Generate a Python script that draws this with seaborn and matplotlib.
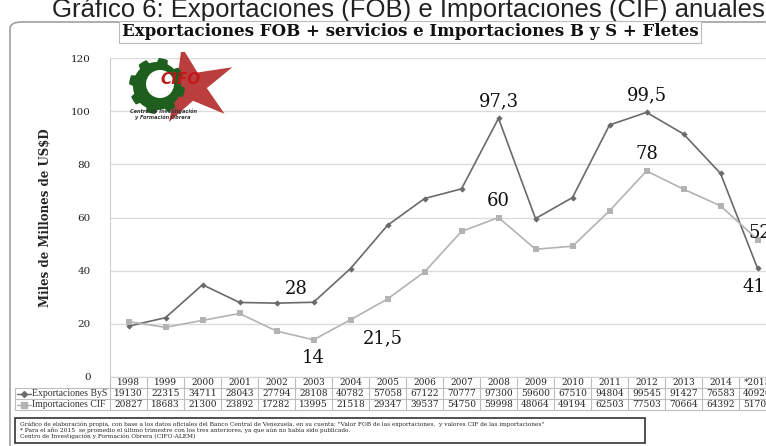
import numpy as np
import pandas as pd
import matplotlib
matplotlib.use("Agg")
import matplotlib.pyplot as plt
import matplotlib.patches as mpatches
from matplotlib.transforms import blended_transform_factory
import seaborn as sns

years = ["1998", "1999", "2000", "2001", "2002", "2003", "2004", "2005", "2006",
         "2007", "2008", "2009", "2010", "2011", "2012", "2013", "2014", "*2015"]
exportaciones = [19130, 22315, 34711, 28043, 27794, 28108, 40782, 57058, 67122,
                 70777, 97300, 59600, 67510, 94804, 99545, 91427, 76583, 40920]
importaciones = [20827, 18683, 21300, 23892, 17282, 13995, 21518, 29347, 39537,
                 54750, 59998, 48064, 49194, 62503, 77503, 70664, 64392, 51700]
series_names = ["Exportaciones ByS", "Importaciones CIF"]
yticks = [0, 20, 40, 60, 80, 100, 120]

# annotations: (series index, year index, label, dx px, dy px, ha, va)
annotations = [
    (0, 10, "97,3", 0, 8, "center", "bottom"),
    (0, 14, "99,5", 0, 8, "center", "bottom"),
    (1, 10, "60", 0, 8, "center", "bottom"),
    (1, 14, "78", 0, 8, "center", "bottom"),
    (0, 5, "28", -6, 4, "right", "bottom"),
    (1, 6, "21,5", 12, -10, "left", "top"),
    (1, 5, "14", 0, -9, "center", "top"),
    (1, 17, "52", -9, 7, "left", "center"),
    (0, 17, "41", -4, -10, "center", "top"),
]

W, H = 766, 446
fig = plt.figure(figsize=(W / 100, H / 100), dpi=100)
fig.patch.set_facecolor("white")
sns.set_style("white")
plt.rcParams["font.family"] = ["DejaVu Serif"]

def fx(px):
    return px / W

def fy(py):
    return 1 - py / H

# axes: left edge 110 px, right 776 px (cropped), y 0 at 377, 120 at 58
ax = fig.add_axes([fx(110), fy(377), (776 - 110) / W, (377 - 58) / H])

x_idx = np.arange(len(years))
df = pd.DataFrame({
    "x": np.concatenate([x_idx, x_idx]),
    "valor": np.concatenate([np.array(exportaciones) / 1000, np.array(importaciones) / 1000]),
    "serie": [series_names[0]] * len(years) + [series_names[1]] * len(years),
})
colors = {series_names[0]: "#6a6a6a", series_names[1]: "#b3b3b3"}
sns.lineplot(data=df, x="x", y="valor", hue="serie", style="serie",
             palette=colors, markers={series_names[0]: "D", series_names[1]: "s"},
             dashes=False, ax=ax, legend=False, linewidth=1.2,
             markersize=4, markeredgewidth=0)
for ln, ms in zip(ax.get_lines(), [3.2, 5]):
    ln.set_markersize(ms)

ax.set_xlim(-0.5, len(years) - 0.5)
ax.set_ylim(0, 120)
ax.set_yticks(yticks)
ax.set_yticklabels([str(v) for v in yticks], fontsize=7.5, color="#222222")
ax.tick_params(axis="y", length=0, pad=14)
ax.set_xticks([])
ax.set_xlabel("")
ax.set_ylabel("Miles de Millones de US$D", fontsize=8.5, fontweight="bold", labelpad=14)
ax.grid(axis="y", color="#dcdcdc", linewidth=1)
for s in ["top", "right"]:
    ax.spines[s].set_visible(False)
ax.spines["left"].set_color("#d0d0d0")
ax.spines["bottom"].set_color("#d0d0d0")

vals = [exportaciones, importaciones]
for si, yi, lab, dx, dy, ha, va in annotations:
    ax.annotate(lab, (yi, vals[si][yi] / 1000), xytext=(dx, dy),
                textcoords="offset pixels", ha=ha, va=va, fontsize=13, color="#111111")

# data table below the axes
tr = blended_transform_factory(ax.transData, fig.transFigure)
line_kw = dict(color="#bdbdbd", linewidth=0.8)
rows_y = [382.5, 393.5, 404.5]
for i, yr in enumerate(years):
    ax.text(i, fy(rows_y[0]), yr, transform=tr, ha="center", va="center", fontsize=6.5, clip_on=False)
    ax.text(i, fy(rows_y[1]), str(exportaciones[i]), transform=tr, ha="center", va="center", fontsize=6.5, clip_on=False)
    ax.text(i, fy(rows_y[2]), str(importaciones[i]), transform=tr, ha="center", va="center", fontsize=6.5, clip_on=False)
for b in np.arange(-0.5, len(years) + 0.5, 1.0):
    ax.plot([b, b], [fy(377), fy(410)], transform=tr, clip_on=False, **line_kw)
for py in [388, 399, 410]:
    fig.add_artist(plt.Line2D([fx(15), 1.0], [fy(py), fy(py)], **line_kw))
fig.add_artist(plt.Line2D([fx(15), fx(15)], [fy(388), fy(410)], **line_kw))
fig.add_artist(plt.Line2D([fx(17), fx(31)], [fy(393.5)] * 2, color=colors[series_names[0]], linewidth=1))
fig.add_artist(plt.Line2D([fx(24)], [fy(393.5)], marker="D", markersize=3, color=colors[series_names[0]], linewidth=0))
fig.add_artist(plt.Line2D([fx(17), fx(31)], [fy(404.5)] * 2, color=colors[series_names[1]], linewidth=1))
fig.add_artist(plt.Line2D([fx(24)], [fy(404.5)], marker="s", markersize=4, color=colors[series_names[1]], linewidth=0))
fig.text(fx(32), fy(393.5), series_names[0], ha="left", va="center", fontsize=7,
         family=["Liberation Serif"], color="#333333")
fig.text(fx(32), fy(404.5), series_names[1], ha="left", va="center", fontsize=7,
         family=["Liberation Serif"], color="#333333")

# outer rounded frame (cropped on right)
frame = mpatches.FancyBboxPatch((fx(10), fy(446) - 0.05), 1.2, fy(22) - fy(446) + 0.05,
                                boxstyle="round,pad=0,rounding_size=0.015",
                                transform=fig.transFigure, facecolor="none",
                                edgecolor="#a0a0a0", linewidth=1.2, clip_on=False)
fig.add_artist(frame)

# heading (partially cut at top)
fig.text(fx(52), fy(17), "Gráfico 6: Exportaciones (FOB) e Importaciones (CIF) anuales",
         ha="left", va="baseline", fontsize=18.5, family=["Liberation Sans", "DejaVu Sans"], color="#222222")

# chart title in a box
fig.text(fx(410), fy(32), "Exportaciones FOB + servicios e Importaciones B y S + Fletes",
         ha="center", va="center", fontsize=12, fontweight="bold", color="#111111",
         bbox=dict(boxstyle="square,pad=0.15", facecolor="white", edgecolor="#bbbbbb", linewidth=0.8))

# footnote box
notes = ["Gráfico de elaboración propia, con base a los datos oficiales del Banco Central de Venezuela, en su cuenta: \"Valor FOB de las exportaciones,  y valores CIF de las importaciones\"",
         "* Para el año 2015  se promedio el último trimestre con los tres anteriores, ya que aún no había sido publicado.",
         "Centro de Investigación y Formación Obrera (CIFO-ALEM)"]
fig.add_artist(mpatches.Rectangle((fx(15), fy(443)), fx(645) - fx(15), fy(418) - fy(443),
                                  transform=fig.transFigure, facecolor="white",
                                  edgecolor="#333333", linewidth=1.2))
for k, t in enumerate(notes):
    fig.text(fx(20), fy(424 + k * 6.3), t, ha="left", va="center", fontsize=4.2, color="#222222")

# CIFO logo approximation (decorative)
lax = fig.add_axes([fx(118), fy(130), (240 - 118) / W, (130 - 52) / H])
lax.set_xlim(118, 240)
lax.set_ylim(130, 52)
lax.axis("off")
cx, cy = 190, 86
ang = np.deg2rad(np.arange(5) * 72 - 100)
pts = []
for k in range(5):
    a = ang[k]
    pts.append((cx + 48 * np.cos(a), cy + 40 * np.sin(a)))
    a2 = a + np.deg2rad(36)
    pts.append((cx + 17 * np.cos(a2), cy + 15 * np.sin(a2)))
lax.add_patch(mpatches.Polygon(pts, closed=True, facecolor="#b01c1c", edgecolor="none", alpha=0.85))
gx, gy = 157, 86
th = np.linspace(0, 2 * np.pi, 97)
r = 24 + 4 * (np.sin(th * 8) > 0)
lax.add_patch(mpatches.Polygon(np.c_[gx + r * np.cos(th), gy + r * np.sin(th)], facecolor="#1e5e1e", edgecolor="none"))
lax.add_patch(mpatches.Circle((gx + 3, gy - 2), 14, facecolor="white", edgecolor="none"))
lax.text(181, 80, "CIFO", ha="center", va="center", fontsize=11, fontweight="bold",
         color="#c01818", family=["DejaVu Sans"], style="italic")
lax.text(163, 111, "Centro de Investigación", ha="center", va="center", fontsize=3.6,
         fontweight="bold", style="italic", family=["DejaVu Sans"], color="#333333")
lax.text(163, 117, "y Formación Obrera", ha="center", va="center", fontsize=3.6,
         fontweight="bold", style="italic", family=["DejaVu Sans"], color="#333333")

fig.savefig("out.png", dpi=100)
